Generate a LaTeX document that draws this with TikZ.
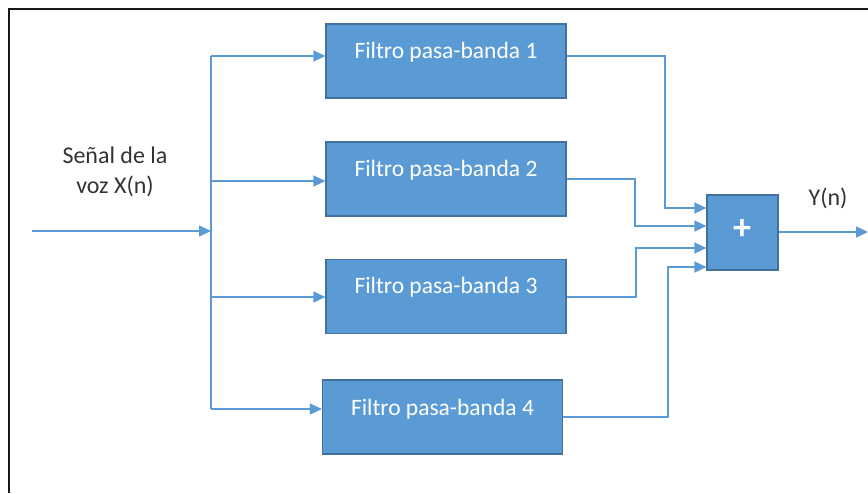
\documentclass[tikz,border=0pt]{standalone}
\usepackage{fontspec}
\setmainfont{Carlito}
\usetikzlibrary{arrows.meta}
\definecolor{bfill}{HTML}{5B9BD5}
\definecolor{bedge}{HTML}{41719C}
\definecolor{wire}{HTML}{5B9BD5}
\begin{document}
\begin{tikzpicture}[x=1pt,y=-1pt,
  filterbox/.style={draw=bedge,fill=bfill,line width=1.2pt,minimum width=240pt,minimum height=74pt,inner sep=0pt},
  sumbox/.style={draw=bedge,fill=bfill,line width=1.2pt,minimum width=71pt,minimum height=75pt,inner sep=0pt},
  boxtext/.style={text=white,font=\fontsize{23.5}{26}\selectfont},
  label/.style={text=black!80,font=\fontsize{24}{30}\selectfont,align=center},
  wireline/.style={draw=wire,line width=1.5pt},
  arrowline/.style={wireline,-{Triangle[length=12pt,width=11pt]}}]
\useasboundingbox (0,0) rectangle (868,493);
% frame edges
\draw[line width=2.2pt,black!90] (9,493) -- (9,9) -- (868,9);

% filter blocks
\node[filterbox] (f1) at (446,61) {};
\node[filterbox] (f2) at (446,179) {};
\node[filterbox] (f3) at (446,296.5) {};
\node[filterbox] (f4) at (442.5,417) {};
\node[boxtext] (t1) at (446,52) {Filtro pasa-banda 1};
\node[boxtext] (t2) at (446,170) {Filtro pasa-banda 2};
\node[boxtext] (t3) at (446,287) {Filtro pasa-banda 3};
\node[boxtext] (t4) at (442.5,409) {Filtro pasa-banda 4};

% summing block
\node[sumbox] (sum) at (742.5,232.5) {};
\node[text=white,font=\fontsize{36}{36}\selectfont\bfseries] (plus) at (742,230) {+};

% labels
\node[label] (xin) at (115,172) {Señal de la\\voz X(n)};
\node[label] (yout) at (828,198) {Y(n)};

% input and distribution bus
\coordinate (src) at (32,231);
\coordinate (bus) at (211,231);
\coordinate (b1) at (211,56);
\coordinate (b2) at (211,181);
\coordinate (b3) at (211,297);
\coordinate (b4) at (211,409);
\draw[arrowline] (src) -- (bus);
\draw[wireline] (b1) -- (b4);
\draw[arrowline] (b1) -- (f1.west |- b1);
\draw[arrowline] (b2) -- (f2.west |- b2);
\draw[arrowline] (b3) -- (f3.west |- b3);
\draw[arrowline] (b4) -- (f4.west |- b4);

% filter outputs into the summing block
\coordinate (k1) at (665,56);
\coordinate (k2) at (635,179);
\coordinate (k3) at (636,297);
\coordinate (k4) at (668,417);
\draw[arrowline] (f1.east |- k1) -- (k1) |- (sum.west |- 0,208);
\draw[arrowline] (f2.east |- k2) -- (k2) |- (sum.west |- 0,226);
\draw[arrowline] (f3.east |- k3) -- (k3) |- (sum.west |- 0,248);
\draw[arrowline] (f4.east |- k4) -- (k4) |- (sum.west |- 0,267);

% output
\coordinate (dst) at (868,232);
\draw[arrowline] (sum.east |- dst) -- (dst);
\end{tikzpicture}
\end{document}
